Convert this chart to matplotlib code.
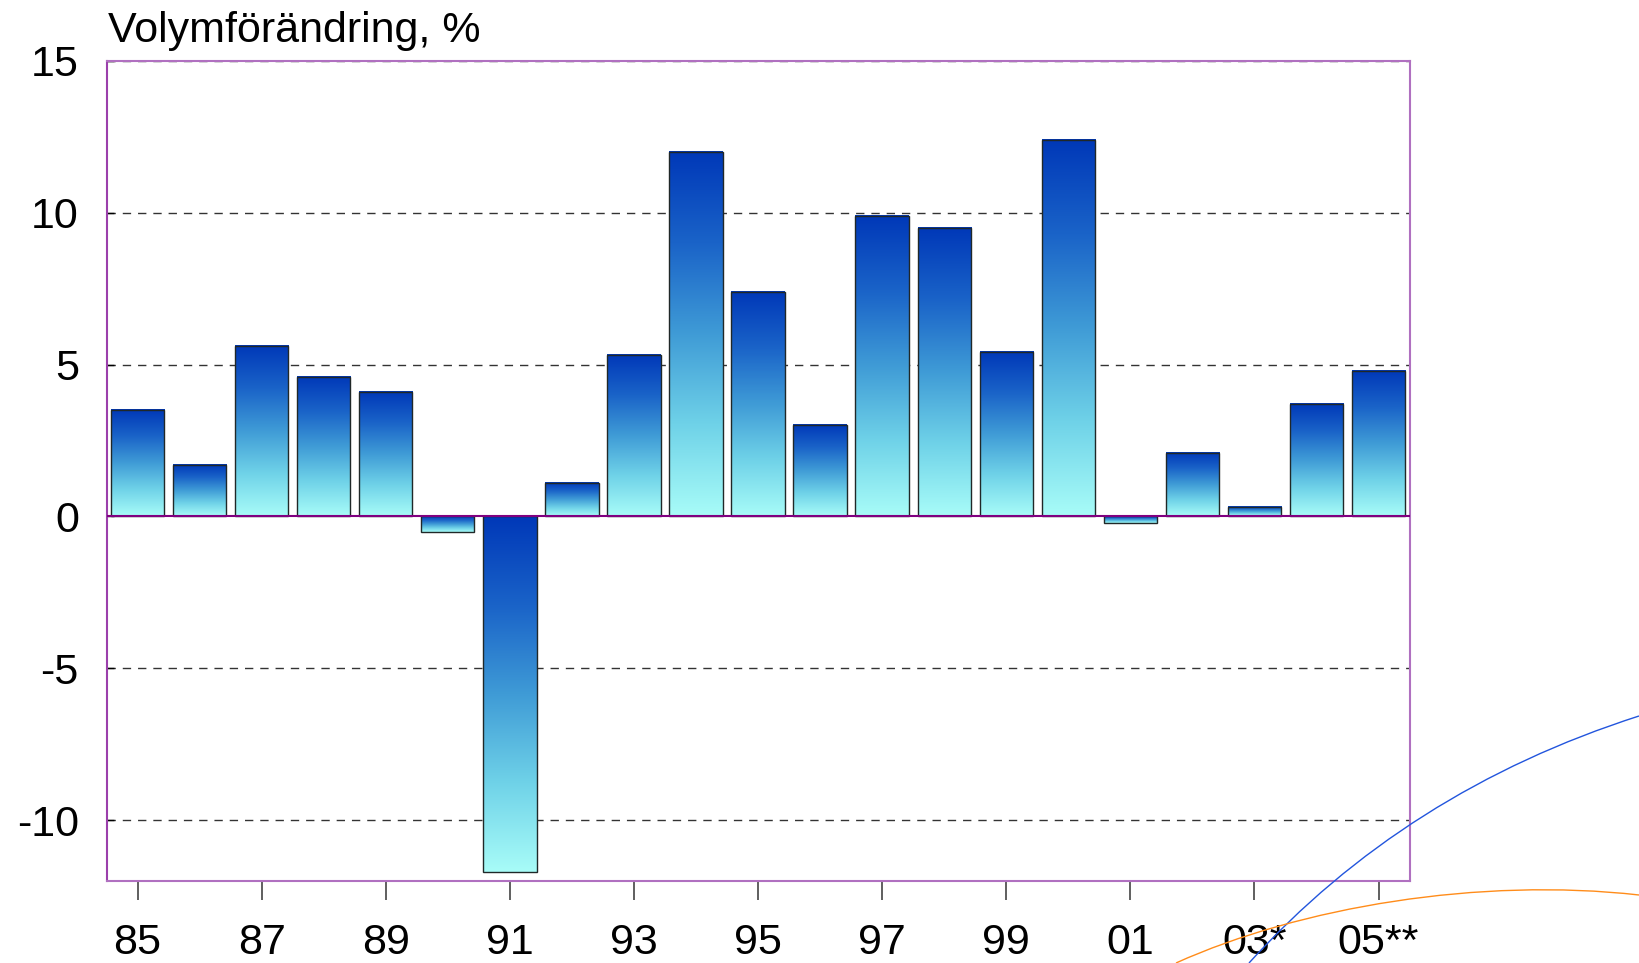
import numpy as np
import matplotlib.pyplot as plt
from matplotlib.colors import LinearSegmentedColormap
from matplotlib.path import Path
from matplotlib.patches import PathPatch

plt.rcParams['font.family'] = ['Liberation Sans', 'DejaVu Sans']

# Data
years = ['85', '86', '87', '88', '89', '90', '91', '92', '93', '94', '95',
         '96', '97', '98', '99', '00', '01', '02', '03*', '04', '05**']
values = [3.5, 1.7, 5.6, 4.6, 4.1, -0.5, -11.7, 1.1, 5.3, 12.0, 7.4,
          3.0, 9.9, 9.5, 5.4, 12.4, -0.2, 2.1, 0.3, 3.7, 4.8]
tick_labels = ['85', '87', '89', '91', '93', '95', '97', '99', '01', '03*', '05**']
y_ticks = [-10, -5, 0, 5, 10, 15]

# decorative curves in the corner (figure pixel coords, bezier control points)
blue_curve = [(1249, 0), (1405, 172), (1639, 247)]
orange_curve = [(1176, 0), (1300, 56), (1480, 86), (1639, 68)]

W, H = 1639, 963
fig = plt.figure(figsize=(W / 100, H / 100), dpi=100)
ax = fig.add_axes([0.065, 0.085, 0.795, 0.852])

cmap = LinearSegmentedColormap.from_list(
    'bars', ['#a8fcf8', '#6fd2e8', '#3f9bd6', '#1a63c8', '#0038b8'])
grad = np.linspace(0, 1, 256).reshape(-1, 1)

x = np.arange(len(values))
width = 0.86
bars = ax.bar(x, values, width=width, facecolor='none',
              edgecolor='#202828', linewidth=1.0, zorder=3)
for b in bars:
    x0, y0 = b.get_x(), b.get_y()
    w, h = b.get_width(), b.get_height()
    lo, hi = min(y0, y0 + h), max(y0, y0 + h)
    ax.imshow(grad, cmap=cmap, aspect='auto', origin='lower',
              extent=(x0, x0 + w, lo, hi), zorder=2, interpolation='bilinear')

ax.set_xlim(-0.5, len(values) - 0.5)
ax.set_ylim(-12, 15)

# grid and zero line
for yv in y_ticks:
    if yv == 0:
        ax.axhline(0, color='#800080', linewidth=1.5, zorder=4)
    else:
        ax.axhline(yv, color='#333333', linewidth=1.0, linestyle=(0, (6, 5)), zorder=1)

for s in ax.spines.values():
    s.set_color('#b070c0')
    s.set_linewidth(1.5)
ax.spines['left'].set_color('#9b3fab')

ax.set_yticks(y_ticks)
ax.set_yticklabels([str(v) for v in y_ticks])
ax.tick_params(axis='y', direction='in', length=5, width=1, colors='black',
               labelsize=31, pad=20)
ax.set_xticks(x[::2])
ax.set_xticklabels(tick_labels)
ax.tick_params(axis='x', direction='out', length=14, width=1.2, color='#444444',
               labelsize=31, pad=16)

fig.text(0.066, 0.956, 'Volymförändring, %', fontsize=31, ha='left', va='baseline')

# corner decoration
def curve(points, color):
    pts = [(px / W, py / H) for px, py in points]
    codes = [Path.MOVETO] + ([Path.CURVE3] * 2 if len(pts) == 3 else [Path.CURVE4] * 3)
    patch = PathPatch(Path(pts, codes), facecolor='none', edgecolor=color,
                      linewidth=1.0, transform=fig.transFigure, clip_on=False)
    fig.add_artist(patch)

curve(blue_curve, '#2255dd')
curve(orange_curve, '#ff8c1a')

fig.savefig('out.png', dpi=100)
